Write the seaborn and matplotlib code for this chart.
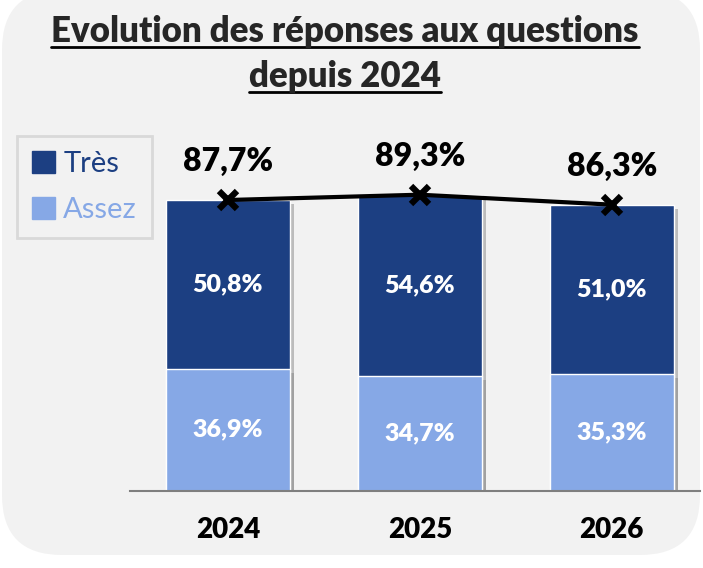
import matplotlib
matplotlib.use("Agg")
import matplotlib.pyplot as plt
import matplotlib.patheffects as pe
from matplotlib.patches import FancyBboxPatch, Patch
from matplotlib.lines import Line2D
from matplotlib.transforms import IdentityTransform
import seaborn as sns

# Data
years = ["2024", "2025", "2026"]
tres = [50.8, 54.6, 51.0]
assez = [36.9, 34.7, 35.3]
totals = [87.7, 89.3, 86.3]

dark = "#1c3f82"
light = "#86a8e6"
bg_col = "#f2f2f2"
W = "heavy"

sns.set_theme(style="white")
plt.rcParams["font.family"] = ["Lato", "DejaVu Sans"]

fig = plt.figure(figsize=(7.03, 5.68), dpi=100)
fig.patch.set_facecolor("white")

# rounded grey background
bg = FancyBboxPatch((0.02, 0.13), 6.98, 5.65,
                    boxstyle="round,pad=0,rounding_size=0.6",
                    transform=fig.dpi_scale_trans, fc=bg_col, ec="none", zorder=0)
fig.add_artist(bg)

ax = fig.add_axes([130 / 703, 77 / 568, 570 / 703, 331.8 / 568])
ax.set_facecolor("none")

shadow = [pe.SimplePatchShadow(offset=(3, -3), shadow_rgbFace="#888888", alpha=0.5), pe.Normal()]

# stacked bars: full total in dark, then the "Assez" part on top in light
sns.barplot(x=years, y=totals, color=dark, saturation=1, width=0.645, ax=ax)
for p in ax.patches:
    p.set_path_effects(shadow)
n = len(ax.patches)
sns.barplot(x=years, y=assez, color=light, saturation=1, width=0.645, ax=ax)
for p in ax.patches[n:]:
    p.set_path_effects(shadow)

# line with markers on totals
ax.plot(range(len(years)), totals, color="black", lw=3, marker="x",
        markersize=13, markeredgewidth=4.5, zorder=5)

for i in range(len(years)):
    ax.text(i, assez[i] + tres[i] / 2, f"{tres[i]:.1f}%".replace(".", ","),
            ha="center", va="center", color="white", fontsize=18, fontweight=W)
    ax.text(i, assez[i] / 2, f"{assez[i]:.1f}%".replace(".", ","),
            ha="center", va="center", color="white", fontsize=18, fontweight=W)
    ax.text(i, totals[i] + 11.5, f"{totals[i]:.1f}%".replace(".", ","),
            ha="center", va="center", color="black", fontsize=23, fontweight=W)

ax.set_ylim(0, 100)
ax.set_xlim(-0.51, 2.46)
ax.set_ylabel("")
ax.set_xlabel("")
ax.set_yticks([])
ax.tick_params(axis="x", length=0, pad=19)
for lab in ax.get_xticklabels():
    lab.set_fontsize(20)
    lab.set_fontweight(W)
    lab.set_color("black")
for s in ["top", "left", "right"]:
    ax.spines[s].set_visible(False)
ax.spines["bottom"].set_color("#7f7f7f")
ax.spines["bottom"].set_linewidth(1.5)

# legend
leg = ax.legend(handles=[Patch(color=dark), Patch(color=light)], labels=["Très", "Assez"],
                loc="upper left", bbox_to_anchor=(17 / 703, 1 - 136 / 568),
                bbox_transform=fig.transFigure, borderaxespad=0,
                fontsize=21, labelcolor=[dark, light],
                frameon=True, fancybox=False, edgecolor="#d9d9d9", facecolor=bg_col,
                framealpha=1, handlelength=0.79, handleheight=0.79, handletextpad=0.3,
                borderpad=0.5, labelspacing=0.7)
leg.get_frame().set_linewidth(2)

# title with underline
H = 568
t1 = fig.text(345 / 703, 1 - 42 / H, "Evolution des réponses aux questions",
              ha="center", va="baseline", fontsize=25, fontweight=W)
t2 = fig.text(345 / 703, 1 - 87 / H, "depuis 2024",
              ha="center", va="baseline", fontsize=25, fontweight=W)
fig.canvas.draw()
r = fig.canvas.get_renderer()
for t, base in ((t1, 42), (t2, 87)):
    bb = t.get_window_extent(renderer=r)
    y = H - base - 5
    fig.add_artist(Line2D([bb.x0, bb.x1], [y, y], transform=IdentityTransform(),
                          color="black", lw=2))

fig.savefig("out.png", dpi=100, facecolor="white")
